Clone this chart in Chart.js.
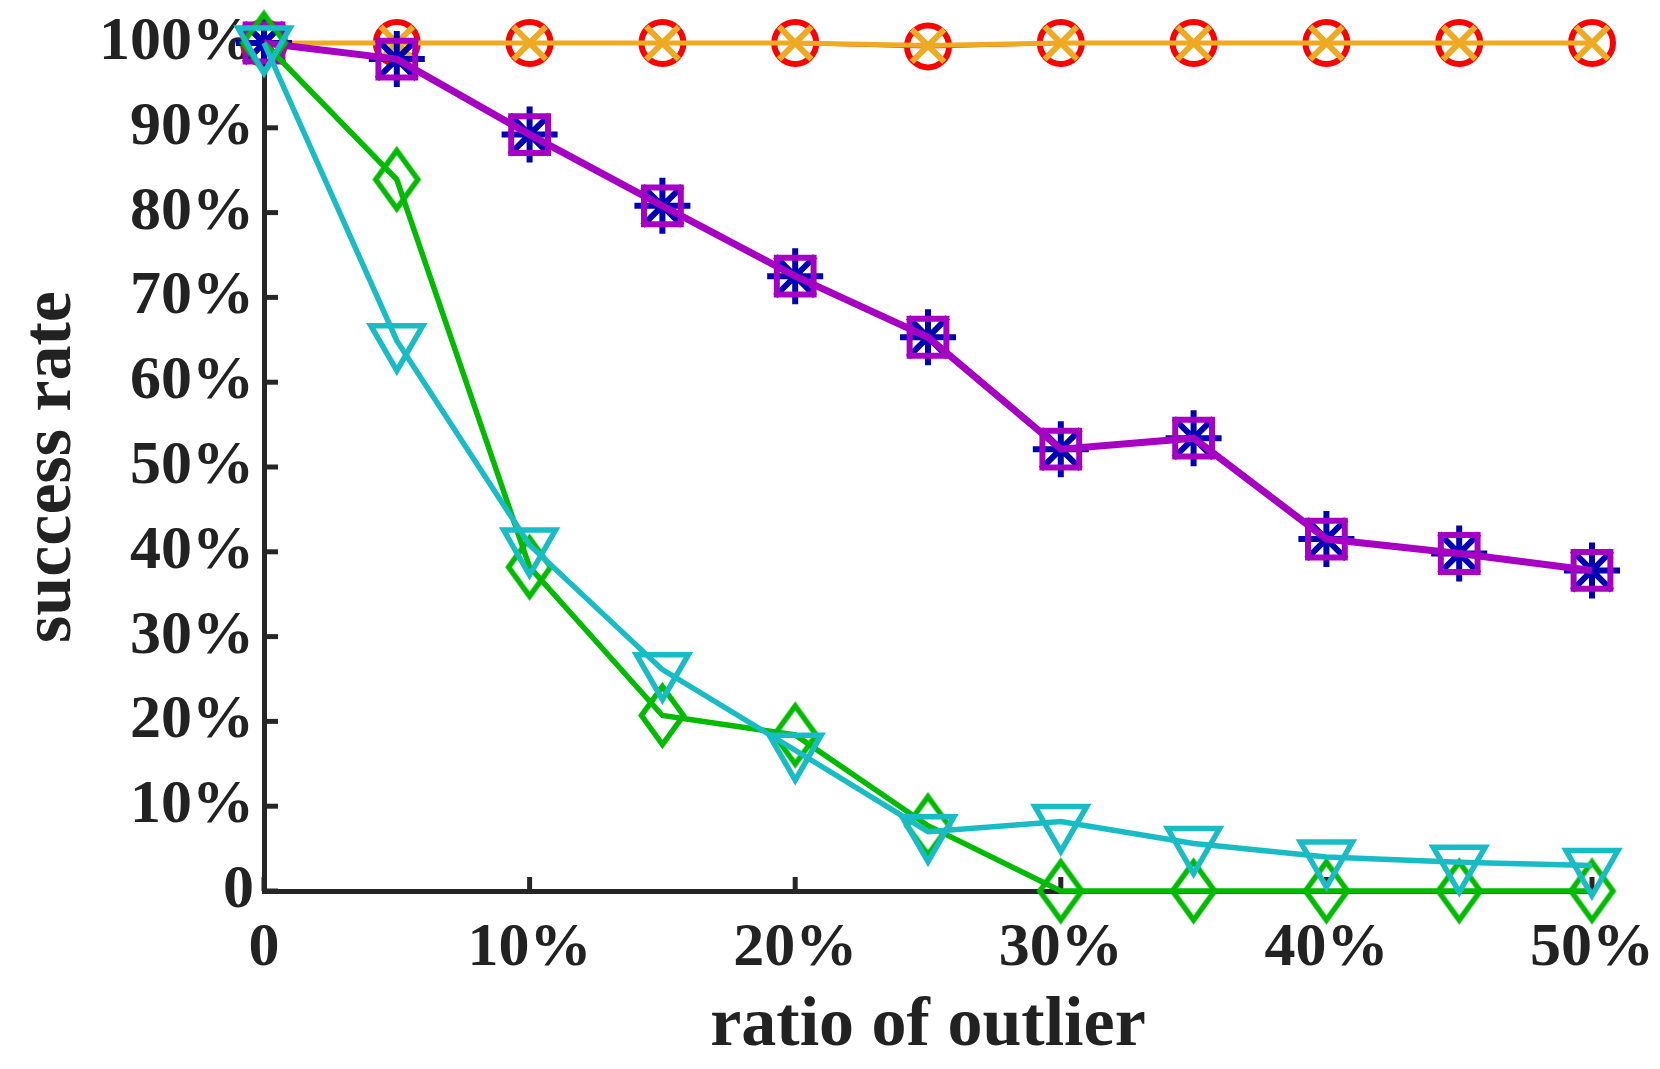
<!DOCTYPE html>
<html lang="en">
<head>
    <meta charset="UTF-8">
    <title>success rate vs ratio of outlier</title>
    <script src="https://cdn.jsdelivr.net/npm/chart.js"></script>
    <style>
        html, body { margin: 0; padding: 0; background: #fff; }
        #chart { display: block; }
    </style>
</head>
<body>
    <canvas id="chart" width="1660" height="1069"></canvas>
    <script>
        // outlier ratio (%) on x, success rate (%) on y
        var ratios = [0, 5, 10, 15, 20, 25, 30, 35, 40, 45, 50];
        var xTicks = [0, 10, 20, 30, 40, 50];
        var yTicks = [0, 10, 20, 30, 40, 50, 60, 70, 80, 90, 100];

        var redCircle   = [100, 100, 100, 100, 100, 99.6, 100, 100, 100, 100, 100];
        var orangeX     = [100, 100, 100, 100, 100, 99.7, 100, 100, 100, 100, 100];
        var navyStar    = [100, 98.1, 89.2, 80.8, 72.5, 65.3, 52.1, 53.4, 41.5, 39.8, 37.8];
        var purpleSq    = [100, 98.1, 89.2, 80.8, 72.5, 65.3, 52.1, 53.4, 41.5, 39.8, 37.8];
        var greenDiam   = [100, 83.9, 38.2, 20.7, 18.4, 7.7, 0, 0, 0, 0, 0];
        var cyanTri     = [100, 64.9, 40.8, 26.1, 16.6, 7.0, 8.2, 5.6, 4.0, 3.4, 3.0];

        function pts(values) {
            return ratios.map(function (r, i) { return { x: r, y: values[i] }; });
        }

        // tall diamond marker like the original figure
        function diamondMarker(w, h, color, lw) {
            var c = document.createElement('canvas');
            c.width = w + lw * 2;
            c.height = h + lw * 2;
            var g = c.getContext('2d');
            var cx = c.width / 2, cy = c.height / 2;
            g.strokeStyle = color;
            g.lineWidth = lw;
            g.lineJoin = 'miter';
            g.beginPath();
            g.moveTo(cx, cy - h / 2);
            g.lineTo(cx + w / 2, cy);
            g.lineTo(cx, cy + h / 2);
            g.lineTo(cx - w / 2, cy);
            g.closePath();
            g.stroke();
            return c;
        }

        var axisColor = '#262626';
        var font = { family: "'Liberation Serif', 'Times New Roman', serif", weight: 'bold' };

        var innerTicks = {
            id: 'innerTicks',
            beforeDatasetsDraw: function (chart) {
                var ctx = chart.ctx, a = chart.chartArea;
                var xs = chart.scales.x, ys = chart.scales.y;
                ctx.save();
                ctx.strokeStyle = axisColor;
                ctx.lineWidth = 5;
                xTicks.forEach(function (v) {
                    var px = xs.getPixelForValue(v);
                    ctx.beginPath();
                    ctx.moveTo(px, a.bottom);
                    ctx.lineTo(px, a.bottom - 14);
                    ctx.stroke();
                });
                yTicks.forEach(function (v) {
                    var py = ys.getPixelForValue(v);
                    ctx.beginPath();
                    ctx.moveTo(a.left, py);
                    ctx.lineTo(a.left + 14, py);
                    ctx.stroke();
                });
                ctx.restore();
            }
        };

        var pctLabel = function (v) { return v === 0 ? '0' : v + '%'; };

        new Chart(document.getElementById('chart'), {
            type: 'line',
            data: {
                datasets: [{
                    data: pts(redCircle), borderColor: '#ff0000', borderWidth: 4,
                    pointStyle: 'circle', pointRadius: 21, pointBorderWidth: 6,
                    pointBorderColor: '#ff0000', pointBackgroundColor: 'rgba(0,0,0,0)', order: 6
                }, {
                    data: pts(orangeX), borderColor: '#eeaa22', borderWidth: 5,
                    pointStyle: 'crossRot', pointRadius: 23, pointBorderWidth: 6,
                    pointBorderColor: '#eeaa22', order: 5
                }, {
                    data: pts(navyStar), borderColor: '#0000b4', borderWidth: 4,
                    pointStyle: 'star', pointRadius: 28, pointBorderWidth: 6,
                    pointBorderColor: '#0000b4', order: 4
                }, {
                    data: pts(purpleSq), borderColor: '#a600c2', borderWidth: 7,
                    pointStyle: 'rect', pointRadius: 26, pointBorderWidth: 6,
                    pointBorderColor: '#a600c2', pointBackgroundColor: 'rgba(0,0,0,0)', order: 3
                }, {
                    data: pts(greenDiam), borderColor: '#00bb00', borderWidth: 5.5,
                    pointStyle: diamondMarker(42, 58, '#00bb00', 5.5), order: 2
                }, {
                    data: pts(cyanTri), borderColor: '#18bcc4', borderWidth: 5.5,
                    pointStyle: 'triangle', pointRotation: 180, pointRadius: 30, pointBorderWidth: 5.5,
                    pointBorderColor: '#18bcc4', pointBackgroundColor: 'rgba(0,0,0,0)', order: 1
                }]
            },
            options: {
                responsive: false,
                animation: false,
                devicePixelRatio: 1,
                events: [],
                clip: false,
                datasets: { line: { tension: 0, fill: false, clip: false } },
                layout: { padding: { top: 43, right: 68, left: 0, bottom: 0 } },
                plugins: { legend: { display: false }, tooltip: { enabled: false } },
                scales: {
                    x: {
                        type: 'linear', min: 0, max: 50,
                        afterBuildTicks: function (s) { s.ticks = xTicks.map(function (v) { return { value: v }; }); },
                        afterFit: function (s) { s.height = 178; s.paddingLeft = 0; s.paddingRight = 0; },
                        grid: { display: false, drawTicks: false },
                        border: { display: true, color: axisColor, width: 5 },
                        ticks: {
                            callback: pctLabel, color: '#222', padding: 27, maxRotation: 0,
                            font: Object.assign({ size: 62, lineHeight: 1 }, font)
                        },
                        title: {
                            display: true, text: 'ratio of outlier', color: '#222',
                            padding: { top: 0, bottom: 0 },
                            font: Object.assign({ size: 70, lineHeight: 1.2 }, font)
                        }
                    },
                    y: {
                        min: 0, max: 100,
                        afterBuildTicks: function (s) { s.ticks = yTicks.map(function (v) { return { value: v }; }); },
                        afterFit: function (s) { s.width = 264; s.paddingTop = 0; s.paddingBottom = 0; },
                        grid: { display: false, drawTicks: false },
                        border: { display: true, color: axisColor, width: 5 },
                        ticks: {
                            callback: pctLabel, color: '#222', padding: 10,
                            font: Object.assign({ size: 62, lineHeight: 1 }, font)
                        },
                        title: {
                            display: true, text: 'success rate', color: '#222',
                            padding: { top: 10, bottom: 0 },
                            font: Object.assign({ size: 70, lineHeight: 1.2 }, font)
                        }
                    }
                }
            },
            plugins: [innerTicks]
        });
    </script>
</body>
</html>
